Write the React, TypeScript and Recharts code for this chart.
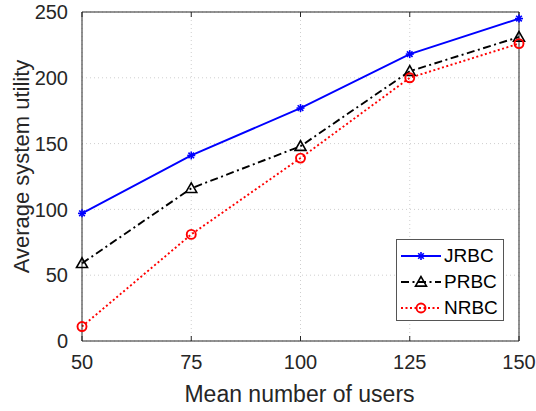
import { LineChart, Line, XAxis, YAxis, CartesianGrid } from "recharts";

const users = [50, 75, 100, 125, 150];
const jrbc = [97, 141, 177, 218, 245];
const prbc = [59, 116, 148, 205, 231];
const nrbc = [11, 81, 139, 200, 226];
const xTicks = [50, 75, 100, 125, 150];
const yTicks = [0, 50, 100, 150, 200, 250];

const data = users.map((u, i) => ({
  users: u,
  JRBC: jrbc[i],
  PRBC: prbc[i],
  NRBC: nrbc[i],
}));

const FONT = "'Liberation Sans', Arial, sans-serif";
const TXT = "#262626";
const AX = "#262626";

const Star = (props: any) => {
  const { cx, cy, stroke } = props;
  const r = 4;
  return (
    <g stroke={stroke} strokeWidth={1.6}>
      <line x1={cx - r} y1={cy} x2={cx + r} y2={cy} />
      <line x1={cx} y1={cy - r} x2={cx} y2={cy + r} />
      <line x1={cx - r * 0.7} y1={cy - r * 0.7} x2={cx + r * 0.7} y2={cy + r * 0.7} />
      <line x1={cx - r * 0.7} y1={cy + r * 0.7} x2={cx + r * 0.7} y2={cy - r * 0.7} />
    </g>
  );
};

const Tri = (props: any) => {
  const { cx, cy, stroke } = props;
  const r = 5.5;
  return (
    <polygon
      points={`${cx},${cy - r} ${cx - r},${cy + r * 0.75} ${cx + r},${cy + r * 0.75}`}
      fill="none"
      stroke={stroke}
      strokeWidth={1.6}
    />
  );
};

const Circ = (props: any) => {
  const { cx, cy, stroke } = props;
  return <circle cx={cx} cy={cy} r={4.5} fill="none" stroke={stroke} strokeWidth={1.9} />;
};

const series = [
  { key: "JRBC", color: "#0000ff", dash: undefined, Marker: Star },
  { key: "PRBC", color: "#000000", dash: "8 3.5 2 3.5", Marker: Tri },
  { key: "NRBC", color: "#ff0000", dash: "2 2.5", Marker: Circ },
];

const LegendBox = () => (
  <div
    style={{
      position: "absolute",
      left: 396,
      top: 239,
      width: 108,
      height: 82,
      border: "1px solid #555",
      background: "#fff",
      fontFamily: FONT,
      fontSize: 19,
      color: "#000",
      boxSizing: "border-box",
      paddingTop: 3,
    }}
  >
    {series.map((s) => (
      <div key={s.key} style={{ display: "flex", alignItems: "center", height: 26 }}>
        <svg width={45} height={20} style={{ marginLeft: 2 }}>
          <line x1={2} y1={10} x2={42} y2={10} stroke={s.color} strokeWidth={1.8} strokeDasharray={s.dash} />
          <s.Marker cx={22} cy={10} stroke={s.color} />
        </svg>
        <span>{s.key}</span>
      </div>
    ))}
  </div>
);

const noLabel = () => <g />;

const XLabel = (props: any) => {
  const { viewBox } = props;
  return (
    <text
      x={viewBox.x + viewBox.width / 2 - 1}
      y={402}
      textAnchor="middle"
      fill={TXT}
      fontSize={23}
      fontFamily={FONT}
    >
      Mean number of users
    </text>
  );
};

const YLabel = (props: any) => {
  const { viewBox } = props;
  const cy = viewBox.y + viewBox.height / 2 - 10;
  return (
    <text
      x={29}
      y={cy}
      transform={`rotate(-90 29 ${cy})`}
      textAnchor="middle"
      fill={TXT}
      fontSize={22}
      fontFamily={FONT}
    >
      Average system utility
    </text>
  );
};

export default function App() {
  return (
    <div style={{ position: "absolute", left: 0, top: 0, width: 536, height: 411, background: "#fff" }}>
      <LineChart
        width={536}
        height={411}
        data={data}
        margin={{ top: 12, right: 17, left: 0, bottom: 0 }}
      >
        <CartesianGrid stroke="#cfcfcf" strokeDasharray="1 3" />
        <XAxis
          dataKey="users"
          type="number"
          domain={[50, 150]}
          ticks={xTicks}
          height={70}
          tickLine={false}
          axisLine={{ stroke: AX }}
          tick={{ fill: TXT, fontSize: 20, fontFamily: FONT }}
          tickMargin={8}
          label={<XLabel />}
        />
        <XAxis
          xAxisId="top"
          dataKey="users"
          type="number"
          domain={[50, 150]}
          ticks={xTicks}
          orientation="top"
          height={1}
          mirror
          tickSize={5}
          tickLine={{ stroke: AX }}
          axisLine={{ stroke: AX }}
          tick={noLabel}
        />
        <XAxis
          xAxisId="bottomTicks"
          dataKey="users"
          type="number"
          domain={[50, 150]}
          ticks={xTicks}
          orientation="bottom"
          height={1}
          mirror
          tickSize={5}
          tickLine={{ stroke: AX }}
          axisLine={false}
          tick={noLabel}
        />
        <YAxis
          domain={[0, 250]}
          ticks={yTicks}
          width={82}
          tickLine={false}
          axisLine={{ stroke: AX }}
          tick={{ fill: TXT, fontSize: 20, fontFamily: FONT }}
          tickMargin={8}
          label={<YLabel />}
        />
        <YAxis
          yAxisId="right"
          domain={[0, 250]}
          ticks={yTicks}
          orientation="right"
          width={1}
          mirror
          tickSize={5}
          tickLine={{ stroke: AX }}
          axisLine={{ stroke: AX }}
          tick={noLabel}
        />
        <YAxis
          yAxisId="leftTicks"
          domain={[0, 250]}
          ticks={yTicks}
          orientation="left"
          width={1}
          mirror
          tickSize={5}
          tickLine={{ stroke: AX }}
          axisLine={false}
          tick={noLabel}
        />
        {series.map((s) => (
          <Line
            key={s.key}
            dataKey={s.key}
            stroke={s.color}
            strokeWidth={1.9}
            strokeDasharray={s.dash}
            dot={<s.Marker stroke={s.color} />}
            activeDot={false}
            isAnimationActive={false}
          />
        ))}
      </LineChart>
      <LegendBox />
    </div>
  );
}
